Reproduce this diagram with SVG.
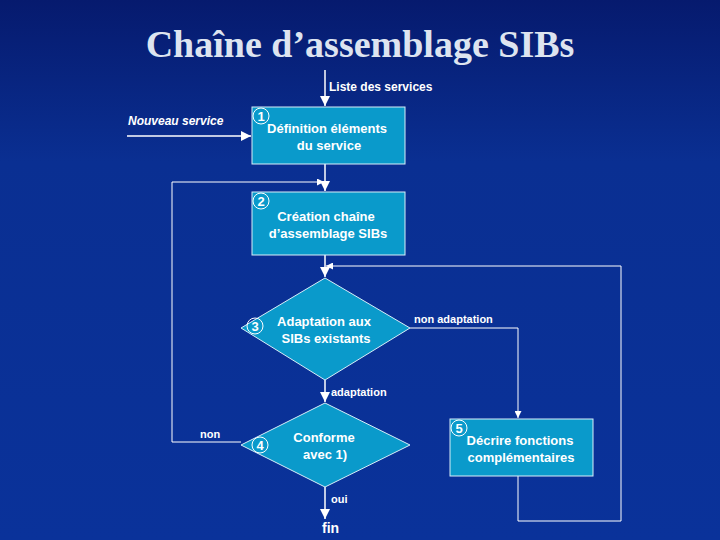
<svg xmlns="http://www.w3.org/2000/svg" width="720" height="540" viewBox="0 0 720 540">
<defs>
<linearGradient id="bg" x1="0" y1="0" x2="0" y2="1"><stop offset="0" stop-color="#061a6e"/><stop offset="0.3" stop-color="#0a2f92"/><stop offset="1" stop-color="#0a329a"/></linearGradient>
<marker id="ar" viewBox="0 0 10 10" refX="10" refY="5" markerWidth="7" markerHeight="7" orient="auto"><path d="M0,0L10,5L0,10z" fill="#fff"/></marker>
<style>
.n{fill:#0a9acb;stroke:#d8eef8;stroke-width:1}
.t{font-family:"Liberation Sans",Arial,sans-serif;font-size:13px;font-weight:bold;fill:#fff;text-anchor:middle}
.l{font-family:"Liberation Sans",Arial,sans-serif;font-size:12px;font-weight:bold;fill:#fff}
.c{fill:none;stroke:#fff;stroke-width:1.5}
.k{fill:none;stroke:#fff;stroke-width:1}
.num{font-family:"Liberation Sans",Arial,sans-serif;font-size:13px;font-weight:bold;fill:#fff;text-anchor:middle}
</style>
</defs>
<rect width="720" height="540" fill="url(#bg)"/>
<text x="360" y="57" text-anchor="middle" font-family="Liberation Serif,Times New Roman,serif" font-size="38" font-weight="bold" fill="#dde4f0">Chaîne d’assemblage SIBs</text>
<g id="connectors">
<path class="c" d="M325,70V106" marker-end="url(#ar)"/>
<path class="c" d="M127,136H251" marker-end="url(#ar)"/>
<path class="c" d="M325,164V191" marker-end="url(#ar)"/>
<path class="k" d="M241,442H172V182H324" marker-end="url(#ar)"/>
<path class="c" d="M325,255V277" marker-end="url(#ar)"/>
<path class="k" d="M410,328H518V418" marker-end="url(#ar)"/>
<path class="k" d="M518,476V521H621V266H326" marker-end="url(#ar)"/>
<path class="c" d="M325,380V402" marker-end="url(#ar)"/>
<path class="c" d="M325,487V519" marker-end="url(#ar)"/>
</g>
<g id="labels">
<text class="l" x="329" y="91">Liste des services</text>
<text class="l" x="128" y="125" font-style="italic">Nouveau service</text>
<text class="l" x="414" y="323" font-weight="normal" style="font-weight:bold;font-size:11px">non adaptation</text>
<text class="l" x="331" y="396" style="font-size:11px">adaptation</text>
<text class="l" x="200" y="438" style="font-size:11px">non</text>
<text class="l" x="331" y="503" style="font-size:11px">oui</text>
<text class="l" x="322" y="533" style="font-size:14px">fin</text>
</g>
<g id="n1"><rect class="n" x="252" y="107" width="153" height="57"/><circle class="k" cx="261" cy="116" r="8"/><text class="num" x="261" y="121">1</text><text class="t" x="327" y="133">Définition éléments</text><text class="t" x="329" y="150">du service</text></g>
<g id="n2"><rect class="n" x="252" y="192" width="153" height="63"/><circle class="k" cx="261" cy="201" r="8"/><text class="num" x="261" y="206">2</text><text class="t" x="326" y="221">Création chaîne</text><text class="t" x="328" y="238">d’assemblage SIBs</text></g>
<g id="n3"><path class="n" d="M325,278L410,328L325,380L241,328Z"/><circle class="k" cx="255" cy="326" r="8"/><text class="num" x="255" y="331">3</text><text class="t" x="324" y="326">Adaptation aux</text><text class="t" x="326" y="343">SIBs existants</text></g>
<g id="n4"><path class="n" d="M325,403L410,445L325,487L241,445Z"/><circle class="k" cx="260" cy="445" r="8"/><text class="num" x="260" y="450">4</text><text class="t" x="324" y="442">Conforme</text><text class="t" x="325" y="459">avec 1)</text></g>
<g id="n5"><rect class="n" x="450" y="419" width="143" height="57"/><circle class="k" cx="459" cy="428" r="8"/><text class="num" x="459" y="433">5</text><text class="t" x="520" y="445">Décrire fonctions</text><text class="t" x="521" y="462">complémentaires</text></g>
</svg>
